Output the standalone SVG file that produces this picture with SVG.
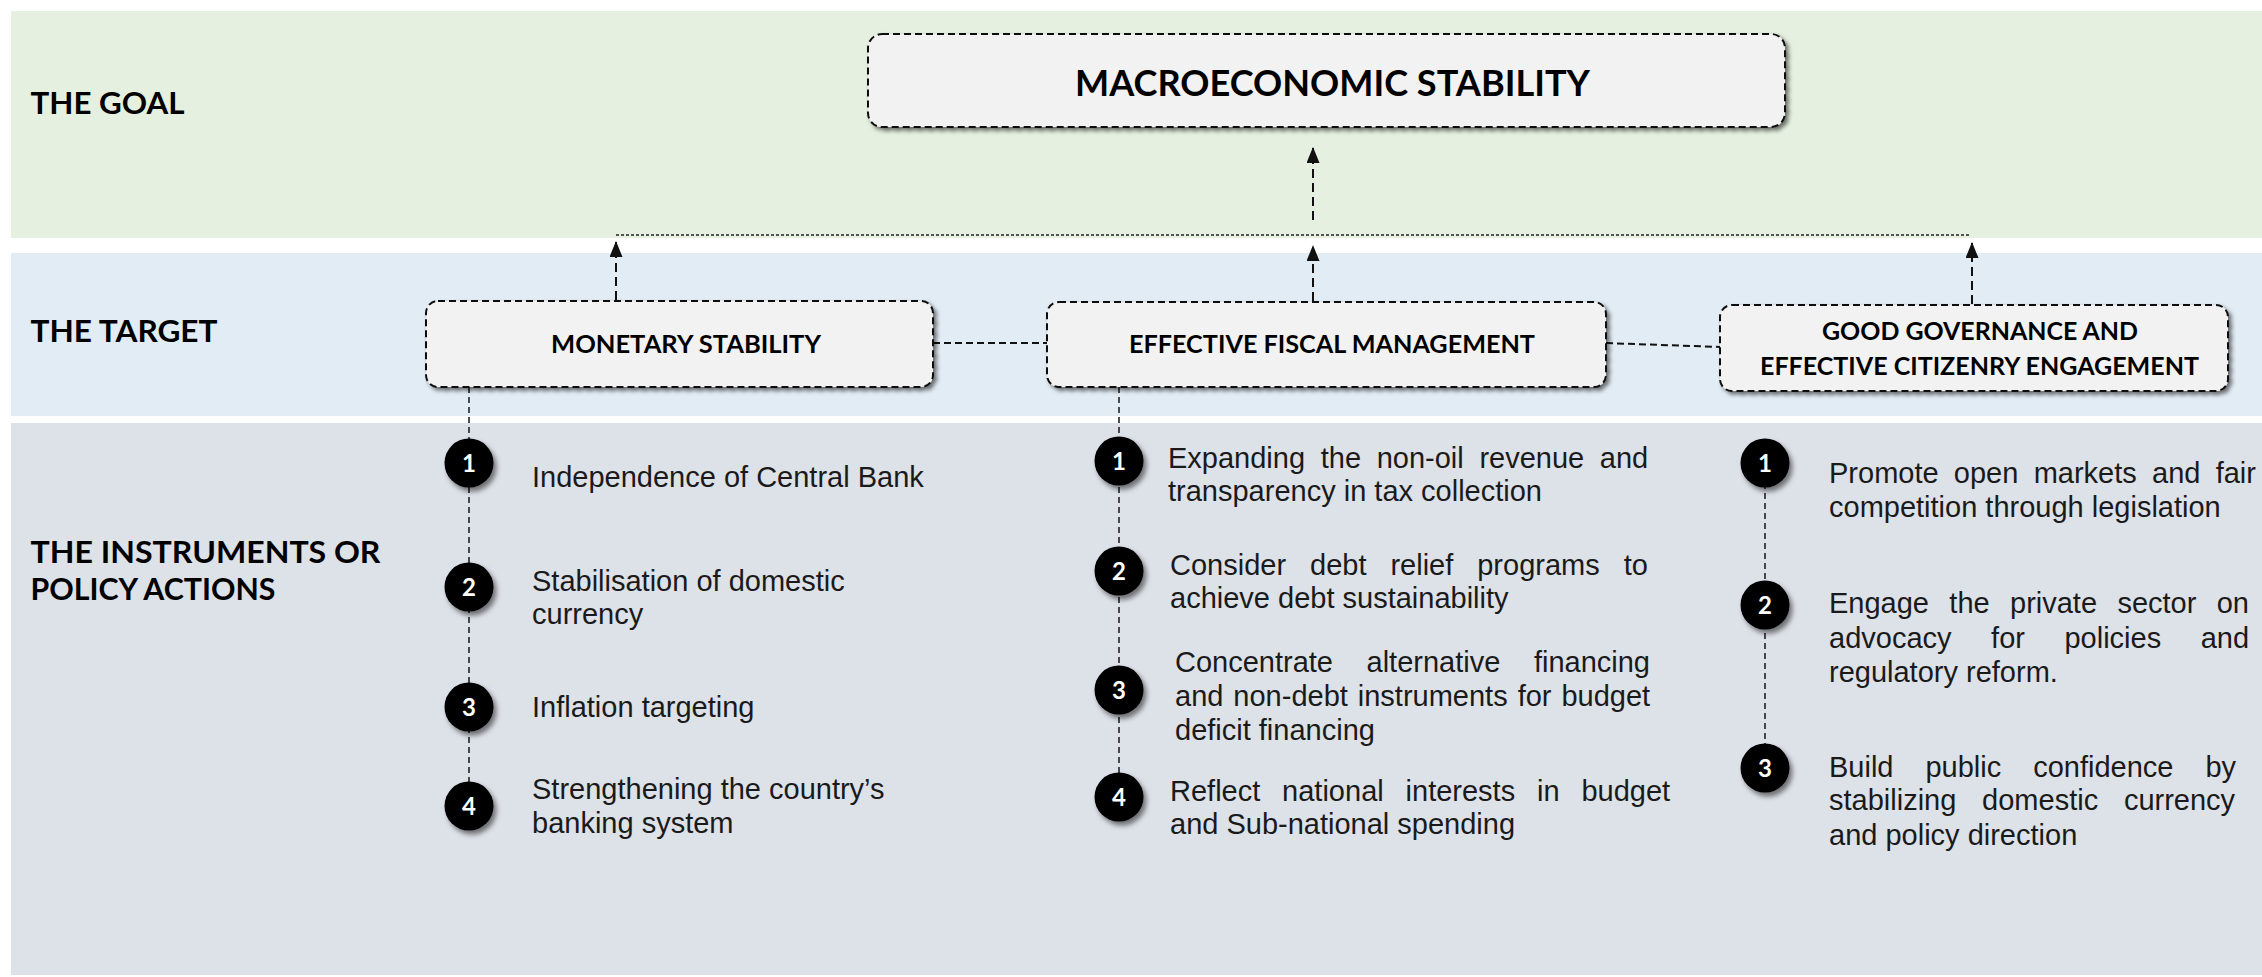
<svg xmlns="http://www.w3.org/2000/svg" width="2262" height="977" viewBox="0 0 2262 977">
  <style>
    .band-label { font-family: Lato, "Open Sans", "Liberation Sans", sans-serif; font-weight: 700; font-size: 31px; fill: #000; }
    .node-box { fill: #f2f2f2; stroke: #111; stroke-width: 2; stroke-dasharray: 7 4; }
    .node-title { font-family: Lato, "Open Sans", "Liberation Sans", sans-serif; font-weight: 700; fill: #000; }
    .goal-title { font-size: 37px; }
    .target-title { font-size: 24px; }
    .link { fill: none; stroke: #111; stroke-width: 2; stroke-dasharray: 7 4; }
    .arrow { fill: none; stroke: #111; stroke-width: 2; stroke-dasharray: 9 5; marker-end: url(#arrowhead); }
    .dotted { fill: none; stroke: #222; stroke-width: 1.5; stroke-dasharray: 3 2; }
    .spine { fill: none; stroke: #222; stroke-width: 1.6; stroke-dasharray: 6 4; }
    .step { fill: #000; }
    .step-num { font-family: Lato, "Open Sans", "Liberation Sans", sans-serif; font-weight: 700; font-size: 24px; fill: #fff; text-anchor: middle; }
    .item { font-family: "Liberation Sans", Arial, sans-serif; font-size: 29px; fill: #1a1a1a; }
  </style>
  <defs>
    <marker id="arrowhead" viewBox="0 0 16 13" refX="15" refY="6.5" markerWidth="16" markerHeight="13" markerUnits="userSpaceOnUse" orient="auto">
      <path d="M0,0 L16,6.5 L0,13 Z" fill="#111"/>
    </marker>
    <filter id="box-shadow" x="-5%" y="-20%" width="112%" height="145%">
      <feDropShadow dx="3" dy="3" stdDeviation="2" flood-color="#000" flood-opacity="0.55"/>
    </filter>
    <filter id="dot-shadow" x="-40%" y="-40%" width="190%" height="190%">
      <feDropShadow dx="3" dy="4" stdDeviation="2.5" flood-color="#000" flood-opacity="0.5"/>
    </filter>
  </defs>

  <!-- background rows -->
  <g id="rows">
    <rect x="11" y="11" width="2251" height="227" fill="#e5f0e0"/>
    <rect x="11" y="253" width="2251" height="163" fill="#e2ecf5"/>
    <rect x="11" y="423" width="2251" height="552" fill="#dde1e8"/>
    <text class="band-label" x="30.5" y="114" textLength="154" lengthAdjust="spacingAndGlyphs">THE GOAL</text>
    <text class="band-label" x="30.5" y="342" textLength="187" lengthAdjust="spacingAndGlyphs">THE TARGET</text>
    <text class="band-label" x="30.5" y="563" textLength="350" lengthAdjust="spacingAndGlyphs">THE INSTRUMENTS OR</text>
    <text class="band-label" x="30.5" y="600" textLength="245" lengthAdjust="spacingAndGlyphs">POLICY ACTIONS</text>
  </g>

  <!-- connectors -->
  <g id="connectors">
    <line class="dotted" x1="616" y1="235" x2="1971" y2="235"/>
    <line class="arrow" x1="1313" y1="220" x2="1313" y2="148"/>
    <line class="arrow" x1="616" y1="300" x2="616" y2="242"/>
    <line class="arrow" x1="1313" y1="301" x2="1313" y2="246"/>
    <line class="arrow" x1="1972" y1="304" x2="1972" y2="243"/>
    <line class="link" x1="933" y1="343" x2="1047" y2="343"/>
    <line class="link" x1="1606" y1="343" x2="1720" y2="347"/>
    <line class="spine" x1="469" y1="387" x2="469" y2="806"/>
    <line class="spine" x1="1119" y1="387" x2="1119" y2="797"/>
    <line class="spine" x1="1765" y1="463" x2="1765" y2="768"/>
  </g>

  <!-- goal -->
  <g id="goal-macro">
    <rect class="node-box" x="868" y="34" width="917" height="93" rx="14" filter="url(#box-shadow)"/>
    <text class="node-title goal-title" x="1075" y="96" textLength="515" lengthAdjust="spacingAndGlyphs">MACROECONOMIC STABILITY</text>
  </g>

  <!-- targets -->
  <g id="target-monetary">
    <rect class="node-box" x="426" y="301" width="507" height="86" rx="12" filter="url(#box-shadow)"/>
    <text class="node-title target-title" x="551" y="353" textLength="270" lengthAdjust="spacingAndGlyphs">MONETARY STABILITY</text>
  </g>
  <g id="target-fiscal">
    <rect class="node-box" x="1047" y="302" width="559" height="85" rx="12" filter="url(#box-shadow)"/>
    <text class="node-title target-title" x="1129" y="353" textLength="406" lengthAdjust="spacingAndGlyphs">EFFECTIVE FISCAL MANAGEMENT</text>
  </g>
  <g id="target-governance">
    <rect class="node-box" x="1720" y="305" width="508" height="86" rx="12" filter="url(#box-shadow)"/>
    <text class="node-title target-title" x="1822" y="340" textLength="316" lengthAdjust="spacingAndGlyphs">GOOD GOVERNANCE AND</text>
    <text class="node-title target-title" x="1760" y="375" textLength="439" lengthAdjust="spacingAndGlyphs">EFFECTIVE CITIZENRY ENGAGEMENT</text>
  </g>

  <!-- monetary instruments -->
  <g id="monetary-1">
    <circle class="step" cx="469" cy="463" r="24.5" filter="url(#dot-shadow)"/>
    <text class="step-num" x="469" y="472">1</text>
    <text class="item" x="532" y="487">Independence of Central Bank</text>
  </g>
  <g id="monetary-2">
    <circle class="step" cx="469" cy="587" r="24.5" filter="url(#dot-shadow)"/>
    <text class="step-num" x="469" y="596">2</text>
    <text class="item"><tspan x="532" y="591">Stabilisation of domestic</tspan><tspan x="532" y="624">currency</tspan></text>
  </g>
  <g id="monetary-3">
    <circle class="step" cx="469" cy="707" r="24.5" filter="url(#dot-shadow)"/>
    <text class="step-num" x="469" y="716">3</text>
    <text class="item" x="532" y="717">Inflation targeting</text>
  </g>
  <g id="monetary-4">
    <circle class="step" cx="469" cy="806" r="24.5" filter="url(#dot-shadow)"/>
    <text class="step-num" x="469" y="815">4</text>
    <text class="item"><tspan x="532" y="799">Strengthening the country’s</tspan><tspan x="532" y="833">banking system</tspan></text>
  </g>

  <!-- fiscal instruments -->
  <g id="fiscal-1">
    <circle class="step" cx="1119" cy="461" r="24.5" filter="url(#dot-shadow)"/>
    <text class="step-num" x="1119" y="470">1</text>
    <text class="item"><tspan x="1168" y="468" style="word-spacing:7.6px">Expanding the non-oil revenue and</tspan><tspan x="1168" y="501">transparency in tax collection</tspan></text>
  </g>
  <g id="fiscal-2">
    <circle class="step" cx="1119" cy="571" r="24.5" filter="url(#dot-shadow)"/>
    <text class="step-num" x="1119" y="580">2</text>
    <text class="item"><tspan x="1170" y="575" style="word-spacing:15.9px">Consider debt relief programs to</tspan><tspan x="1170" y="608">achieve debt sustainability</tspan></text>
  </g>
  <g id="fiscal-3">
    <circle class="step" cx="1119" cy="690" r="24.5" filter="url(#dot-shadow)"/>
    <text class="step-num" x="1119" y="699">3</text>
    <text class="item"><tspan x="1175" y="672" style="word-spacing:25.5px">Concentrate alternative financing</tspan><tspan x="1175" y="706" style="word-spacing:1.9px">and non-debt instruments for budget</tspan><tspan x="1175" y="740">deficit financing</tspan></text>
  </g>
  <g id="fiscal-4">
    <circle class="step" cx="1119" cy="797" r="24.5" filter="url(#dot-shadow)"/>
    <text class="step-num" x="1119" y="806">4</text>
    <text class="item"><tspan x="1170" y="801" style="word-spacing:13.8px">Reflect national interests in budget</tspan><tspan x="1170" y="834">and Sub-national spending</tspan></text>
  </g>

  <!-- governance instruments -->
  <g id="governance-1">
    <circle class="step" cx="1765" cy="463" r="24.5" filter="url(#dot-shadow)"/>
    <text class="step-num" x="1765" y="472">1</text>
    <text class="item"><tspan x="1829" y="483" style="word-spacing:7.2px">Promote open markets and fair</tspan><tspan x="1829" y="517">competition through legislation</tspan></text>
  </g>
  <g id="governance-2">
    <circle class="step" cx="1765" cy="605" r="24.5" filter="url(#dot-shadow)"/>
    <text class="step-num" x="1765" y="614">2</text>
    <text class="item"><tspan x="1829" y="613" style="word-spacing:12.3px">Engage the private sector on</tspan><tspan x="1829" y="648" style="word-spacing:31.5px">advocacy for policies and</tspan><tspan x="1829" y="682">regulatory reform.</tspan></text>
  </g>
  <g id="governance-3">
    <circle class="step" cx="1765" cy="768" r="24.5" filter="url(#dot-shadow)"/>
    <text class="step-num" x="1765" y="777">3</text>
    <text class="item"><tspan x="1829" y="777" style="word-spacing:23.9px">Build public confidence by</tspan><tspan x="1829" y="810" style="word-spacing:17.7px">stabilizing domestic currency</tspan><tspan x="1829" y="845">and policy direction</tspan></text>
  </g>
</svg>
